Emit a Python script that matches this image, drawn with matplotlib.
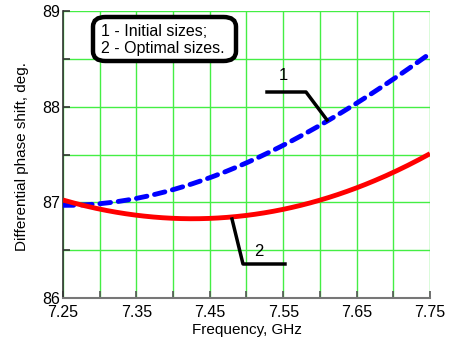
import matplotlib
matplotlib.use("Agg")
import matplotlib.pyplot as plt
from matplotlib.patches import FancyBboxPatch
import numpy as np

plt.rcParams['font.family'] = ['Liberation Sans', 'DejaVu Sans']

freq = [7.25, 7.30, 7.35, 7.40, 7.45, 7.50, 7.55, 7.60, 7.65, 7.70, 7.75]
initial = [86.97, 86.99, 87.04, 87.12, 87.25, 87.42, 87.62, 87.81, 88.02, 88.27, 88.57]
optimal = [87.01, 86.95, 86.87, 86.83, 86.83, 86.85, 86.92, 87.03, 87.16, 87.32, 87.50]
xticks = [7.25, 7.35, 7.45, 7.55, 7.65, 7.75]
yticks = [86, 87, 88, 89]
legend_lines = ["1 - Initial sizes;", "2 - Optimal sizes."]

W, H = 449, 343
fig = plt.figure(figsize=(W / 100, H / 100), dpi=100)
x0, x1, y0, y1 = 63, 430, 11, 298
ax = fig.add_axes([x0 / W, 1 - y1 / H, (x1 - x0) / W, (y1 - y0) / H])

# smooth curves through the read points
xs = np.linspace(7.25, 7.75, 200)
ci = np.polyfit(freq, initial, 3)
co = np.polyfit(freq, optimal, 3)
ax.plot(xs, np.polyval(ci, xs), color='#0000ff', lw=3.5, ls=(0, (2.2, 1.6)), zorder=3, dash_capstyle='round')
ax.plot(xs, np.polyval(co, xs), color='#ff0000', lw=3.5, zorder=3, solid_capstyle='butt')

ax.set_xlim(7.25, 7.75)
ax.set_ylim(86, 89)
ax.set_xticks(xticks)
ax.set_yticks(yticks)
ax.set_xticks(np.arange(7.30, 7.75, 0.1), minor=True)
ax.set_yticks([86.5, 87.5, 88.5], minor=True)
ax.grid(True, which='both', color='#44ee44', lw=1.0, zorder=1)
ax.set_axisbelow(True)
ax.tick_params(which='both', direction='in', length=5, width=1.2, labelsize=11.5, color='#333333')
ax.tick_params(axis='x', which='both', colors='#555555', labelcolor='black', pad=5)
ax.tick_params(axis='y', pad=2)
for s in ['top', 'right']:
    ax.spines[s].set_visible(False)
ax.spines['left'].set_color('#333333')
ax.spines['bottom'].set_color('#777777')
ax.spines['left'].set_linewidth(1.2)
ax.spines['bottom'].set_linewidth(1.5)

ax.set_xlabel("Frequency, GHz", fontsize=11)
ax.set_ylabel("Differential phase shift, deg.", fontsize=11, va='center')
ax.xaxis.set_label_coords(0.5, (298 - 330) / 287)
ax.xaxis.label.set_va('center')
ax.yaxis.set_label_coords((22 - 63) / 367, (298 - 157) / 287)

def pix(px, py):
    return (px / W, 1 - py / H)

# legend box
box = FancyBboxPatch(pix(93, 61), (236 - 93) / W, (61 - 17) / H,
                     boxstyle="round,pad=0.0,rounding_size=0.028",
                     transform=fig.transFigure, fill=True, fc='white',
                     ec='black', lw=3.2, zorder=5)
fig.add_artist(box)
fig.text(*pix(101, 31), legend_lines[0], fontsize=11.5, va='center', ha='left', zorder=6)
fig.text(*pix(101, 49), legend_lines[1], fontsize=11.5, va='center', ha='left', zorder=6)

# leader lines
fig.add_artist(plt.Line2D([267 / W, 306 / W, 327 / W], [1 - 92 / H, 1 - 92 / H, 1 - 120 / H],
                          color='black', lw=2.5, transform=fig.transFigure, zorder=6))
fig.text(*pix(283, 76), "1", fontsize=12, ha='center', va='center')
fig.add_artist(plt.Line2D([232 / W, 243 / W, 285 / W], [1 - 219 / H, 1 - 264 / H, 1 - 264 / H],
                          color='black', lw=2.5, transform=fig.transFigure, zorder=6))
fig.text(*pix(259, 252), "2", fontsize=12, ha='center', va='center')

fig.savefig("out.png", dpi=100)
